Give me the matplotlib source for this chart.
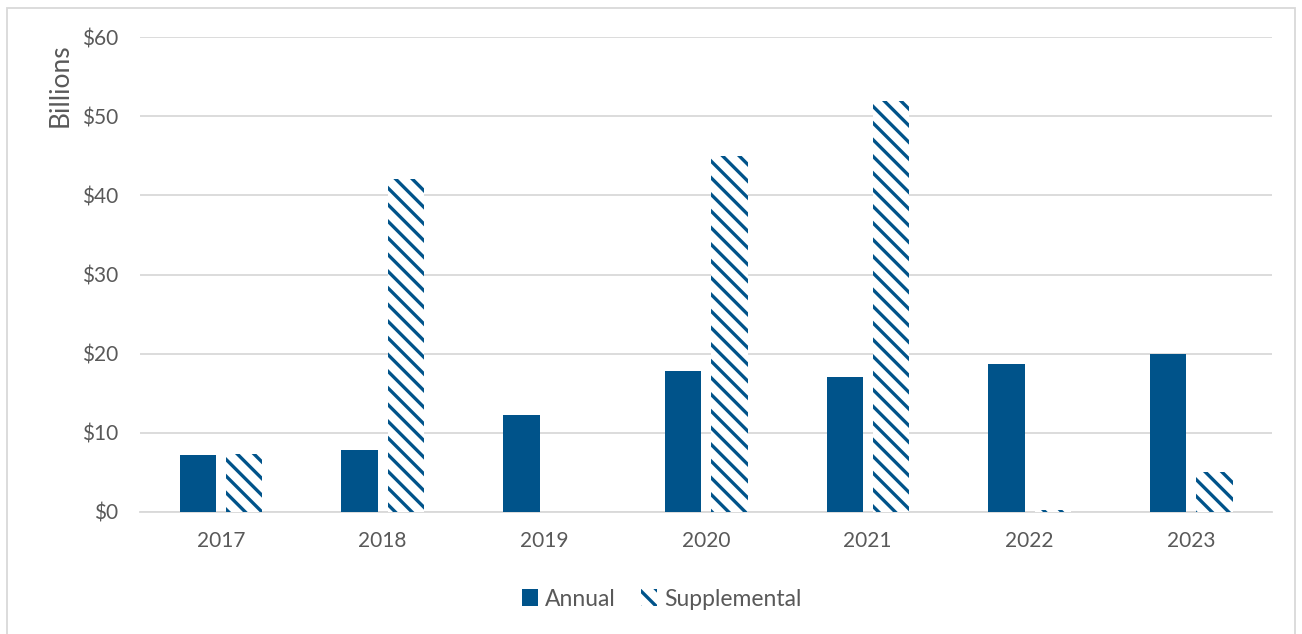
import numpy as np
import matplotlib.pyplot as plt
from matplotlib.patches import Rectangle

# datos (miles de millones de dolares)
years = ['2017', '2018', '2019', '2020', '2021', '2022', '2023']
annual = [7.2, 7.8, 12.2, 17.8, 17.1, 18.7, 19.9]
supplemental = [7.3, 42.1, 0.0, 45.0, 51.9, 0.2, 5.1]

blue = '#00538a'
grey_txt = '#595959'

plt.rcParams['font.family'] = ['Lato', 'DejaVu Sans']
plt.rcParams['hatch.linewidth'] = 2.4

fig = plt.figure(figsize=(13.02, 6.34), dpi=100)
ax = fig.add_axes([140/1302, 1-512/634, 1132/1302, 475/634])

x = np.arange(len(years))
w = 0.225
ax.bar(x - 0.142, annual, w, color=blue, label='Annual', zorder=3)
ax.bar(x + 0.145, supplemental, w, color='white', edgecolor=blue, linewidth=0,
       hatch='\\\\', label='Supplemental', zorder=3)

ax.set_xlim(-0.5, len(years) - 0.5)
ax.set_ylim(0, 60)
ax.set_yticks(np.arange(0, 61, 10))
ax.set_yticklabels(['$%d' % v for v in range(0, 61, 10)])
ax.set_xticks(x)
ax.set_xticklabels(years)
ax.yaxis.grid(True, color='#d9d9d9', linewidth=1.3, zorder=0)
for s in ['top', 'right', 'left']:
    ax.spines[s].set_visible(False)
ax.spines['bottom'].set_color('#d9d9d9')
ax.spines['bottom'].set_linewidth(1.3)
ax.tick_params(length=0, labelsize=15, colors=grey_txt, pad=14)
ax.tick_params(axis='y', pad=16)

# etiqueta del eje y arriba a la izquierda
fig.text(60/1302, 1-85/634, 'Billions', rotation=90, fontsize=19, color=grey_txt,
         ha='center', va='center')

ax.legend(loc='center', bbox_to_anchor=(662/1302, 1-599/634), bbox_transform=fig.transFigure,
          ncol=2, frameon=False, fontsize=16.5, labelcolor=grey_txt,
          handlelength=0.7, handleheight=0.7, handletextpad=0.3, columnspacing=1.1)

fig.patches.append(Rectangle((7/1302, -0.01), 1288/1302, 1 - 8/634 + 0.01, transform=fig.transFigure,
                             fill=False, edgecolor='#d9d9d9', linewidth=1.3))

plt.savefig('out.png', dpi=100)
